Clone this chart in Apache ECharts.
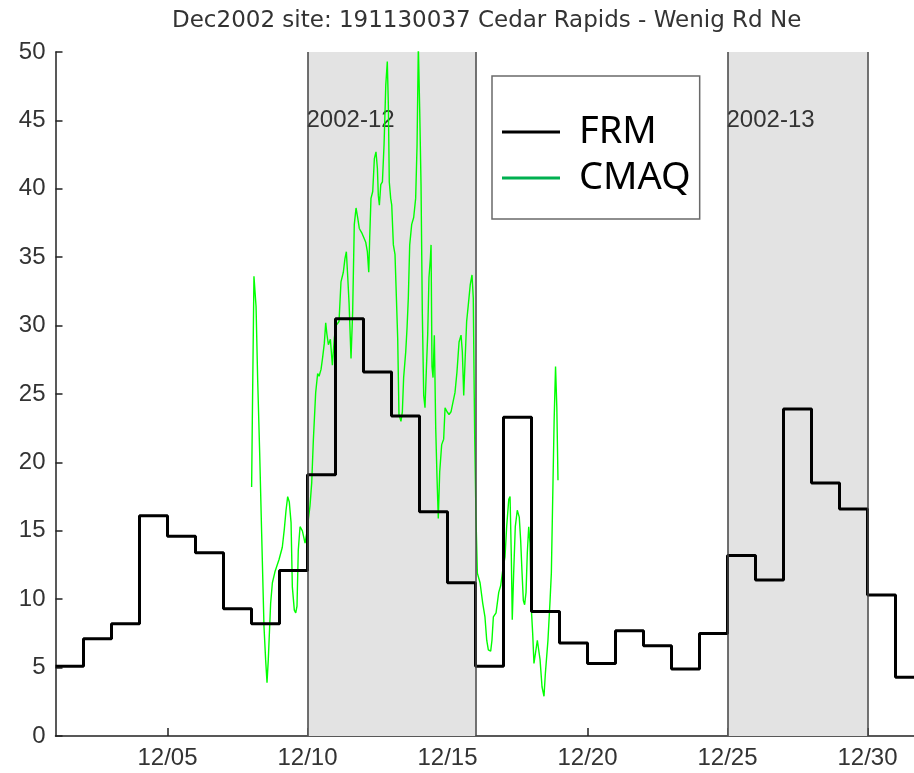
<!DOCTYPE html>
<html>
<head>
<meta charset="utf-8">
<script src="https://cdn.jsdelivr.net/npm/echarts@6/dist/echarts.min.js"></script>
<style>
html,body{margin:0;padding:0;background:#fff;}
#chart{width:914px;height:773px;}
</style>
</head>
<body>
<div id="chart"></div>
<script>
// ---- data ----
var titleText = 'Dec2002 site: 191130037 Cedar Rapids - Wenig Rd Ne';
// FRM daily values, Dec 1 .. Dec 31
var frmDays = [1,2,3,4,5,6,7,8,9,10,11,12,13,14,15,16,17,18,19,20,21,22,23,24,25,26,27,28,29,30,31];
var frmValues = [5.1,7.1,8.2,16.1,14.6,13.4,9.3,8.2,12.1,19.1,30.5,26.6,23.4,16.4,11.2,5.1,23.3,9.1,6.8,5.3,7.7,6.6,4.9,7.5,13.2,11.4,23.9,18.5,16.6,10.3,4.3];
// CMAQ hourly series: hours since Dec 8 00:00 and values
var cmaqStartDay = 8;
var cmaqHours = [0.1,0.7,2.1,3.9,5.3,7.0,8.7,10.7,12.1,13.3,14.4,16.4,17.9,20.1,21.6,23.6,26.4,28.1,29.6,31.0,32.4,33.9,35.0,36.7,37.9,39.0,40.1,41.6,43.6,45.9,47.3,48.7,50.1,51.6,53.0,55.0,56.7,57.9,59.6,61.0,62.4,63.6,64.6,65.9,67.6,69.3,71.0,72.4,75.0,76.7,78.7,80.1,81.3,82.4,83.6,85.3,86.7,88.1,89.6,91.0,92.4,94.4,96.4,97.9,99.3,100.5,101.3,102.4,103.9,105.3,106.7,107.9,108.7,109.6,110.8,112.2,113.6,115.1,116.4,117.3,118.1,119.3,120.2,121.6,123.0,125.3,126.4,128.1,129.3,130.4,132.2,133.3,134.4,135.6,137.3,139.0,140.7,141.9,143.0,144.2,145.3,146.4,147.6,148.7,149.8,151.0,152.1,153.3,153.9,154.7,155.6,156.7,157.9,159.0,160.1,161.3,163.0,164.7,165.9,167.6,169.3,171.0,172.7,174.4,176.1,177.9,179.6,180.7,181.9,183.0,184.4,185.8,187.5,189.0,190.1,190.9,191.3,192.4,193.6,195.9,198.2,200.1,201.6,203.0,205.0,206.1,207.3,209.6,211.9,213.6,215.3,217.3,218.7,220.5,221.6,222.7,223.5,224.7,226.1,227.8,229.5,230.7,231.9,233.0,234.1,235.3,236.4,237.6,238.7,239.6,241.0,242.1,243.3,245.0,246.2,247.3,249.0,250.7,251.9,253.0,254.1,255.9,257.0,258.3,259.4,260.6,261.7,262.7];
var cmaqValues = [18.2,23.1,33.6,31.4,26.0,20.7,14.8,8.0,5.6,3.9,5.6,9.7,11.2,12.0,12.1,12.9,13.8,15.1,16.5,17.5,17.1,15.6,10.9,9.2,9.0,9.5,13.6,15.3,15.0,14.1,14.8,15.8,16.8,18.5,21.6,25.1,26.5,26.3,26.8,27.7,28.7,30.2,29.4,28.6,29.0,27.1,29.1,30.0,30.3,33.2,33.9,34.9,35.4,33.7,31.7,27.6,31.0,37.4,38.6,37.9,37.1,36.8,36.4,36.1,35.4,33.9,36.4,39.3,39.8,42.2,42.7,41.5,39.5,38.8,40.3,40.5,43.2,47.6,49.3,46.1,40.5,39.3,38.8,35.9,35.2,29.1,23.5,23.0,23.7,26.2,28.1,29.8,32.0,35.9,37.4,37.9,39.3,43.2,50.5,45.6,40.3,31.0,24.9,24.0,26.6,29.3,33.5,34.9,35.9,27.0,26.2,29.3,22.5,18.9,15.9,19.3,21.3,21.7,24.0,23.7,23.5,23.7,24.4,25.1,26.6,28.8,29.3,28.1,24.9,27.3,30.3,31.5,33.0,33.7,32.0,25.0,21.9,16.0,11.9,11.2,9.7,8.7,7.0,6.3,6.2,7.0,8.7,9.0,10.5,11.0,12.1,13.1,15.3,17.3,17.5,13.1,8.5,11.9,15.3,16.5,16.0,14.3,11.9,9.9,9.6,10.5,13.4,15.3,14.1,9.7,7.5,5.3,5.2,7.0,6.9,5.6,3.6,2.9,4.6,4.7,7.0,9.9,11.9,18.0,23.1,27.0,24.0,18.7];
// shaded episodes
var shadeStart = [10, 25];
var shadeEnd = [16, 30];
var shadeLabels = ['2002-12', '2002-13'];
// axis ticks
var xTickDays = [5, 10, 15, 20, 25, 30];
var yMin = 0, yMax = 50, yStep = 5;
var xMin = 1, xMax = 31.66;
var seriesNames = ['FRM', 'CMAQ'];

// ---- build library data ----
var frmData = frmDays.map(function (d, i) { return [d, frmValues[i]]; });
frmData.push([frmDays[frmDays.length - 1] + 1, frmValues[frmValues.length - 1]]);
var cmaqData = cmaqHours.map(function (h, i) { return [cmaqStartDay + h / 24, cmaqValues[i]]; });

var areas = shadeStart.map(function (s, i) {
  return [{ xAxis: s, name: shadeLabels[i] }, { xAxis: shadeEnd[i] }];
});
var edgeLines = [];
shadeStart.forEach(function (s, i) { edgeLines.push({ xAxis: s }); edgeLines.push({ xAxis: shadeEnd[i] }); });

function pad2(n) { return (n < 10 ? '0' : '') + n; }

var font = 'Liberation Sans, Arial, sans-serif';
var chart = echarts.init(document.getElementById('chart'), null, { renderer: 'canvas' });
chart.setOption({
  backgroundColor: '#ffffff',
  animation: false,
  title: {
    text: titleText,
    left: 172, top: 10, padding: 0,
    textStyle: { fontFamily: 'DejaVu Sans, sans-serif', fontSize: 23, fontWeight: 'normal', color: '#333' }
  },
  grid: { left: 55.5, right: 0, top: 52, bottom: 37, containLabel: false },
  legend: {
    orient: 'vertical',
    left: 492, top: 76,
    padding: [33, 9, 18, 10],
    itemGap: 0,
    icon: 'rect',
    itemWidth: 58, itemHeight: 3,
    backgroundColor: '#ffffff',
    borderColor: '#6a6a6a', borderWidth: 1.5, borderRadius: 0,
    textStyle: { fontFamily: 'Noto Sans, sans-serif', fontSize: 38, color: '#000', lineHeight: 46, padding: [0, 0, 0, 14] },
    data: [
      { name: seriesNames[0], itemStyle: { color: '#000000', borderWidth: 0 } },
      { name: seriesNames[1], itemStyle: { color: '#00b050', borderWidth: 0 } }
    ]
  },
  xAxis: {
    type: 'value', min: xMin, max: xMax,
    splitLine: { show: false },
    axisLine: { show: true, lineStyle: { color: '#222', width: 1.5 } },
    axisTick: { show: true, inside: true, length: 8, customValues: xTickDays, lineStyle: { color: '#222', width: 1.5 } },
    axisLabel: {
      customValues: xTickDays, margin: 10,
      fontFamily: font, fontSize: 24, color: '#333',
      formatter: function (v) { return '12/' + pad2(Math.round(v)); }
    }
  },
  yAxis: {
    type: 'value', min: yMin, max: yMax, interval: yStep,
    splitLine: { show: false },
    axisLine: { show: true, lineStyle: { color: '#222', width: 1.5 } },
    axisTick: { show: true, inside: true, length: 7, lineStyle: { color: '#222', width: 1.5 } },
    axisLabel: { margin: 10, fontFamily: font, fontSize: 24, color: '#333' }
  },
  series: [
    {
      name: '_episodes', type: 'line', data: [], z: 1, silent: true,
      markArea: {
        silent: true,
        itemStyle: { color: '#e3e3e3', borderWidth: 0 },
        label: {
          show: true, position: 'insideTopLeft', distance: 0, offset: [-1, 56],
          fontFamily: font, fontSize: 24, color: '#333'
        },
        data: areas
      },
      markLine: {
        silent: true, symbol: ['none', 'none'],
        label: { show: false },
        lineStyle: { color: '#444', width: 1.5, type: 'solid' },
        data: edgeLines
      }
    },
    {
      name: seriesNames[0], type: 'line', data: frmData, step: 'end', z: 4,
      symbol: 'none', showSymbol: false,
      lineStyle: { color: '#000', width: 3 }, itemStyle: { color: '#000' }
    },
    {
      name: seriesNames[1], type: 'line', data: cmaqData, z: 3,
      symbol: 'none', showSymbol: false,
      lineStyle: { color: '#00ff00', width: 1.4 }, itemStyle: { color: '#00b050' }
    }
  ]
});
</script>
</body>
</html>
